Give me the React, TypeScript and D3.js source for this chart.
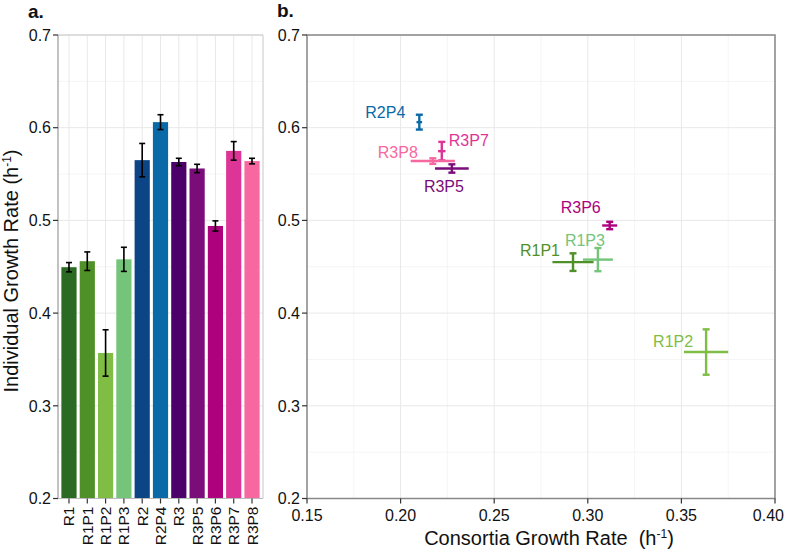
import React from "react";
import * as d3 from "d3";

const strains = ["R1", "R1P1", "R1P2", "R1P3", "R2", "R2P4", "R3", "R3P5", "R3P6", "R3P7", "R3P8"];
const indivRate = [0.4495, 0.456, 0.357, 0.458, 0.565, 0.606, 0.563, 0.556, 0.494, 0.575, 0.564];
const indivErr = [0.005, 0.01, 0.025, 0.013, 0.018, 0.008, 0.004, 0.0045, 0.0055, 0.01, 0.003];
const strainColors = ["#2b6a22", "#4f9128", "#7fbd45", "#74c47a", "#0b4585", "#0a6aa8", "#4b006a", "#7a0d7a", "#ad017e", "#dd3497", "#f768a1"];

const consortia = ["R1P1", "R1P2", "R1P3", "R2P4", "R3P5", "R3P6", "R3P7", "R3P8"];
const consRate = [0.2921, 0.3632, 0.3054, 0.210, 0.2274, 0.3117, 0.222, 0.2172];
const consErr = [0.011, 0.0118, 0.008, 0.0015, 0.009, 0.004, 0.002, 0.0118];
const consIndiv = [0.455, 0.358, 0.4577, 0.606, 0.556, 0.4945, 0.5747, 0.564];
const consIndivErr = [0.0095, 0.0245, 0.0125, 0.008, 0.0045, 0.004, 0.01, 0.003];
const labelAnchor = ["end", "end", "start", "end", "start", "start", "start", "end"];
const labelDx = [-13, -13, -33, -14, -28, -49, 7, -15];
const labelDy = [-6, -5, -14, -4, 24, -12, -5, -2.6];

const yTicks = [0.2, 0.3, 0.4, 0.5, 0.6, 0.7];
const xTicks = [0.15, 0.2, 0.25, 0.3, 0.35, 0.4];

const FONT = "'Liberation Sans', Arial, sans-serif";

export default function App() {
  const W = 785, H = 551;
  const aL = 58, aR = 263, top = 35, bottom = 498.5;
  const bL = 307, bR = 775;
  const y = d3.scaleLinear().domain([0.2, 0.7]).range([bottom, top]);
  const xb = d3.scalePoint<string>().domain(strains).range([aL, aR]).padding(0.6);
  const step = xb.step();
  const bw = step * 0.83;
  const xc = d3.scaleLinear().domain([0.15, 0.4]).range([bL, bR]);
  const minorY = d3.range(0.25, 0.7, 0.1);
  const minorX = d3.range(0.175, 0.4, 0.05);
  const colorOf = (s: string) => strainColors[strains.indexOf(s)];

  return (
    <svg width={W} height={H} style={{ position: "absolute", left: 0, top: 0, fontFamily: FONT }}>
      <rect width={W} height={H} fill="#fff" />
      {/* Panel a */}
      <g>
        {minorY.map((v) => (
          <line key={"amy" + v} x1={aL} x2={aR} y1={y(v)} y2={y(v)} stroke="#f3f3f3" strokeWidth={0.8} />
        ))}
        {yTicks.map((v) => (
          <line key={"ay" + v} x1={aL} x2={aR} y1={y(v)} y2={y(v)} stroke="#e8e8e8" strokeWidth={1} />
        ))}
        {strains.map((s) => (
          <line key={"ax" + s} x1={xb(s)} x2={xb(s)} y1={top} y2={bottom} stroke="#e8e8e8" strokeWidth={1} />
        ))}
        {strains.map((s, i) => (
          <rect key={"bar" + s} x={xb(s)! - bw / 2} width={bw} y={y(indivRate[i])} height={bottom - y(indivRate[i])} fill={strainColors[i]} />
        ))}
        {strains.map((s, i) => {
          const cx = xb(s)!;
          const y1 = y(indivRate[i] + indivErr[i]);
          const y2 = y(indivRate[i] - indivErr[i]);
          return (
            <g key={"eb" + s} stroke="#000" strokeWidth={1.6}>
              <line x1={cx} x2={cx} y1={y1} y2={y2} />
              <line x1={cx - 3} x2={cx + 3} y1={y1} y2={y1} />
              <line x1={cx - 3} x2={cx + 3} y1={y2} y2={y2} />
            </g>
          );
        })}
        <line x1={aL} x2={aR} y1={top} y2={top} stroke="#c8c8c8" strokeWidth={1} />
        <line x1={aR} x2={aR} y1={top} y2={bottom} stroke="#c8c8c8" strokeWidth={1} />
        <line x1={aL} x2={aL} y1={top} y2={bottom} stroke="#999" strokeWidth={1.2} />
        <line x1={aL} x2={aR} y1={bottom} y2={bottom} stroke="#bbb" strokeWidth={1} />
        {yTicks.map((v) => (
          <g key={"ayt" + v}>
            <line x1={aL - 5} x2={aL} y1={y(v)} y2={y(v)} stroke="#333" strokeWidth={1.2} />
            <text x={aL - 7} y={y(v)} dy="0.36em" textAnchor="end" fontSize={16} fill="#111">{v.toFixed(1)}</text>
          </g>
        ))}
        {strains.map((s) => (
          <g key={"axt" + s}>
            <line x1={xb(s)} x2={xb(s)} y1={bottom} y2={bottom + 5} stroke="#333" strokeWidth={1.2} />
            <text transform={`translate(${xb(s)! + 5.5},${bottom + 8}) rotate(-90)`} textAnchor="end" fontSize={15.5} fill="#111">{s}</text>
          </g>
        ))}
        <text transform={`translate(18,271) rotate(-90)`} textAnchor="middle" fontSize={20} fill="#111">
          Individual Growth Rate (h<tspan dy="-7" fontSize={12}>-1</tspan><tspan dy="7">)</tspan>
        </text>
        <text x={28} y={18} fontSize={19} fontWeight="bold" fill="#111">a.</text>
      </g>
      {/* Panel b */}
      <g>
        {minorY.map((v) => (
          <line key={"bmy" + v} x1={bL} x2={bR} y1={y(v)} y2={y(v)} stroke="#f3f3f3" strokeWidth={0.8} />
        ))}
        {minorX.map((v) => (
          <line key={"bmx" + v} x1={xc(v)} x2={xc(v)} y1={top} y2={bottom} stroke="#f3f3f3" strokeWidth={0.8} />
        ))}
        {yTicks.map((v) => (
          <line key={"by" + v} x1={bL} x2={bR} y1={y(v)} y2={y(v)} stroke="#e8e8e8" strokeWidth={1} />
        ))}
        {xTicks.map((v) => (
          <line key={"bx" + v} x1={xc(v)} x2={xc(v)} y1={top} y2={bottom} stroke="#e8e8e8" strokeWidth={1} />
        ))}
        {consortia.map((s, i) => {
          const c = colorOf(s);
          const cx = xc(consRate[i]);
          const cy = y(consIndiv[i]);
          const x1 = xc(consRate[i] - consErr[i]);
          const x2 = xc(consRate[i] + consErr[i]);
          const y1 = y(consIndiv[i] + consIndivErr[i]);
          const y2 = y(consIndiv[i] - consIndivErr[i]);
          return (
            <g key={"pt" + s} stroke={c} strokeWidth={2.4}>
              <line x1={x1} x2={x2} y1={cy} y2={cy} />
              <line x1={cx} x2={cx} y1={y1} y2={y2} />
              <line x1={cx - 3.5} x2={cx + 3.5} y1={y1} y2={y1} />
              <line x1={cx - 3.5} x2={cx + 3.5} y1={y2} y2={y2} />
            </g>
          );
        })}
        {consortia.map((s, i) => (
          <text key={"lb" + s} x={xc(consRate[i]) + labelDx[i]} y={y(consIndiv[i]) + labelDy[i]} textAnchor={labelAnchor[i]} fontSize={16} fill={colorOf(s)}>{s}</text>
        ))}
        <rect x={bL} y={top} width={bR - bL} height={bottom - top} fill="none" stroke="#888" strokeWidth={1.5} />
        {yTicks.map((v) => (
          <g key={"byt" + v}>
            <line x1={bL - 5} x2={bL} y1={y(v)} y2={y(v)} stroke="#333" strokeWidth={1.2} />
            <text x={bL - 7} y={y(v)} dy="0.36em" textAnchor="end" fontSize={16} fill="#111">{v.toFixed(1)}</text>
          </g>
        ))}
        {xTicks.map((v, i) => (
          <g key={"bxt" + v}>
            <line x1={xc(v)} x2={xc(v)} y1={bottom} y2={bottom + 5} stroke="#333" strokeWidth={1.2} />
            <text x={i === xTicks.length - 1 ? 784 : xc(v)} y={bottom + 22} textAnchor={i === xTicks.length - 1 ? "end" : "middle"} fontSize={16} fill="#111">{v.toFixed(2)}</text>
          </g>
        ))}
        <text x={549} y={545} textAnchor="middle" fontSize={20} fill="#111" xmlSpace="preserve">
          Consortia Growth Rate  (h<tspan dy="-7" fontSize={12}>-1</tspan><tspan dy="7">)</tspan>
        </text>
        <text x={277} y={17} fontSize={19} fontWeight="bold" fill="#111">b.</text>
      </g>
    </svg>
  );
}
